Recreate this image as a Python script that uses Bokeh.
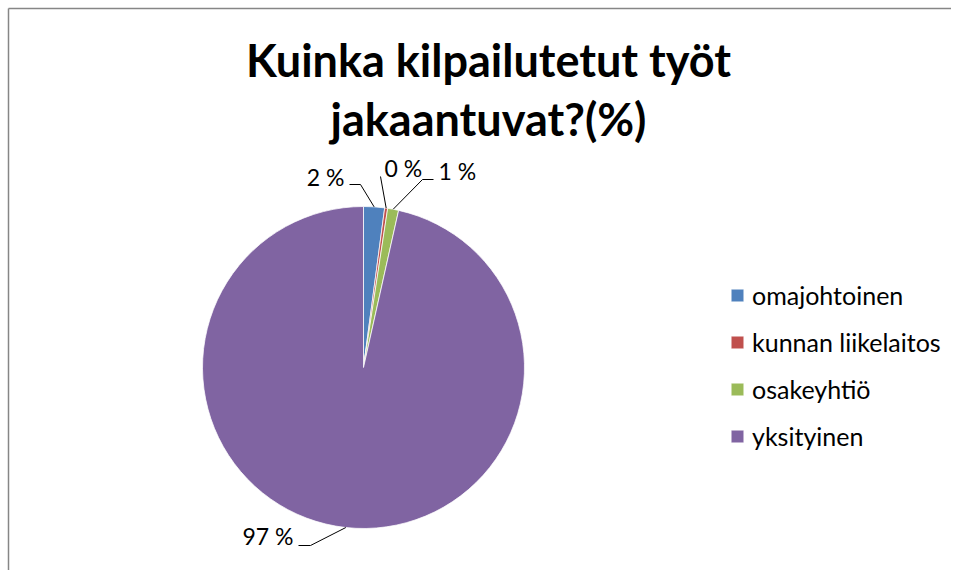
import math
from bokeh.plotting import figure
from bokeh.models import Range1d, ColumnDataSource
from bokeh.core.properties import value
from bokeh.embed import file_html
from bokeh.resources import INLINE

# ---- data ----
title_lines = ["Kuinka kilpailutetut työt", "jakaantuvat?(%)"]
categories = ["omajohtoinen", "kunnan liikelaitos", "osakeyhtiö", "yksityinen"]
shares = [2.1, 0.3, 1.1, 96.5]
share_labels = ["2 %", "0 %", "1 %", "97 %"]
colors = ["#4F81BD", "#C0504D", "#9BBB59", "#8064A2"]

# ---- layout helpers (page px -> data units, 1:1) ----
W, H = 951, 570
TEXT_SHIFT = 0.45  # em, compensates baseline placement of text glyphs


def dx(sx):
    return sx


def dy(sy):
    return H - sy


def tdy(sy, fs):
    return dy(sy - TEXT_SHIFT * fs)


p = figure(width=W, height=H, x_range=Range1d(0, W), y_range=Range1d(0, H),
           output_backend="svg", toolbar_location=None, min_border=0,
           x_axis_location=None, y_axis_location=None)
p.grid.visible = False
p.outline_line_color = None
p.background_fill_color = "white"
p.border_fill_color = "white"

# chart-area border (top and left edges visible in the view)
p.line([dx(8), dx(951)], [dy(8), dy(8)], line_color="#868686", line_width=1.5)
p.line([dx(8), dx(8)], [dy(8), dy(570)], line_color="#868686", line_width=1.5)

# ---- pie ----
cx, cy, r = dx(363), dy(367), 161
total = sum(shares)
starts, ends, mids = [], [], []
cum = 0.0
for s in shares:
    a0 = math.pi / 2 - 2 * math.pi * cum / total
    cum += s
    a1 = math.pi / 2 - 2 * math.pi * cum / total
    starts.append(a0)
    ends.append(a1)
    mids.append((a0 + a1) / 2)

src = ColumnDataSource(dict(cat=categories, start=starts, end=ends, color=colors))
p.wedge(x=cx, y=cy, radius=r, start_angle="start", end_angle="end",
        direction="clock", fill_color="color", line_color="white",
        line_width=0.75, legend_field="cat", source=src)

# ---- data labels with leader lines ----
LFS = 23
label_pos = [(344, 187, "right"), (384, 178, "left"), (438, 181, "left"), (293, 546, "right")]
leader_pts = [[(360, 184), (349, 184)], [(380, 176)], [(422, 179), (433, 179)], [(310, 545), (298, 545)]]

for i, lab in enumerate(share_labels):
    ax = cx + r * math.cos(mids[i])
    ay = cy + r * math.sin(mids[i])
    xs = [ax] + [dx(pt[0]) for pt in leader_pts[i]]
    ys = [ay] + [dy(pt[1]) for pt in leader_pts[i]]
    p.line(xs, ys, line_color="black", line_width=1)
    tx, ty, al = label_pos[i]
    p.text(x=[dx(tx)], y=[tdy(ty, LFS)], text=[lab], text_align=al,
           text_baseline="alphabetic", text_font=value("Lato"),
           text_font_size=f"{LFS}px", text_color="black")

# ---- title ----
TFS = 45
title_baselines = [80, 139]
for line, base in zip(title_lines, title_baselines):
    p.text(x=[dx(488)], y=[tdy(base, TFS)], text=[line], text_align="center",
           text_baseline="alphabetic", text_font=value("Lato"),
           text_font_style="bold", text_font_size=f"{TFS}px", text_color="black")

# ---- legend ----
lg = p.legend[0]
lg.location = (729, 119)
lg.border_line_color = None
lg.background_fill_alpha = 0
lg.label_text_font = "Lato"
lg.label_text_font_size = "25px"
lg.label_text_color = "black"
lg.glyph_width = 16
lg.glyph_height = 16
lg.label_height = 30
lg.spacing = 17
lg.padding = 0
lg.margin = 0
lg.label_standoff = 7

open("out.html", "w").write(file_html(p, INLINE))
